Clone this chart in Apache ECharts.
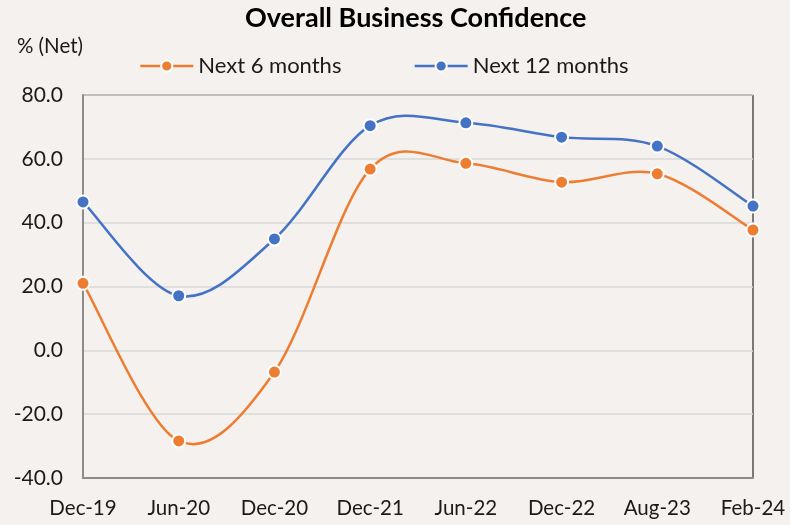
<!DOCTYPE html>
<html lang="en">
<head>
<meta charset="UTF-8">
<title>Overall Business Confidence</title>
<script src="https://cdn.jsdelivr.net/npm/echarts@6/dist/echarts.min.js"></script>
<style>
  html, body { margin: 0; padding: 0; background: #f4f1ef; }
  #chart { width: 790px; height: 525px; }
</style>
</head>
<body>
<div id="chart"></div>
<script>
  // data
  var categories = ['Dec-19', 'Jun-20', 'Dec-20', 'Dec-21', 'Jun-22', 'Dec-22', 'Aug-23', 'Feb-24'];
  var next6 = [21.0, -28.4, -6.8, 56.8, 58.6, 52.7, 55.3, 37.7];
  var next12 = [46.5, 17.1, 34.9, 70.4, 71.3, 66.8, 64.0, 45.2];
  var yTicks = { min: -40, max: 80, interval: 20 };

  var font = 'Lato, "Open Sans", sans-serif';
  var orange = '#ed7d31', blue = '#4472c4';
  var chart = echarts.init(document.getElementById('chart'));

  // markers only, the curve itself is drawn by the custom series below
  function markerSeries(name, data, color) {
    return {
      name: name,
      type: 'line',
      data: data,
      z: 3,
      symbol: 'circle',
      symbolSize: 13,
      lineStyle: { color: color, width: 2.5, opacity: 0 },
      itemStyle: { color: color, borderColor: '#ffffff', borderWidth: 2 }
    };
  }

  // excel-like smoothing (catmull-rom -> bezier), points placed by the axes
  function curveSeries(name, data, color) {
    return {
      name: name,
      type: 'custom',
      z: 2,
      data: data.map(function (v, i) { return [i, v]; }),
      renderItem: function (params, api) {
        var i = params.dataIndex;
        var n = data.length;
        if (i >= n - 1) return null;
        var pt = function (k) {
          k = Math.max(0, Math.min(n - 1, k));
          return api.coord([k, data[k]]);
        };
        var p0 = pt(i - 1), p1 = pt(i), p2 = pt(i + 1), p3 = pt(i + 2);
        return {
          type: 'bezierCurve',
          shape: {
            x1: p1[0], y1: p1[1],
            cpx1: p1[0] + (p2[0] - p0[0]) / 6,
            cpy1: p1[1] + (p2[1] - p0[1]) / 6,
            cpx2: p2[0] - (p3[0] - p1[0]) / 6,
            cpy2: p2[1] - (p3[1] - p1[1]) / 6,
            x2: p2[0], y2: p2[1]
          },
          style: { stroke: color, lineWidth: 2.5, fill: null }
        };
      }
    };
  }

  chart.setOption({
    backgroundColor: '#f4f1ef',
    textStyle: { fontFamily: font },
    title: {
      text: 'Overall Business Confidence',
      left: 240,
      top: 0,
      textStyle: { fontFamily: font, fontWeight: 'bold', fontSize: 27, color: '#000' }
    },
    legend: {
      left: 134,
      top: 50,
      itemWidth: 53,
      itemHeight: 14,
      itemGap: 72,
      textStyle: { fontFamily: font, fontSize: 22, color: '#1a1a1a' },
      data: [
        { name: 'Next 6 months', lineStyle: { color: orange, width: 2.5, opacity: 1 } },
        { name: 'Next 12 months', lineStyle: { color: blue, width: 2.5, opacity: 1 } }
      ]
    },
    grid: {
      left: 83,
      right: 37,
      top: 95,
      bottom: 47,
      show: true,
      borderColor: '#000',
      borderWidth: 1,
      backgroundColor: 'transparent'
    },
    xAxis: {
      type: 'category',
      data: categories,
      boundaryGap: false,
      axisLine: { onZero: false, lineStyle: { color: '#8c8c8c', width: 2 } },
      axisTick: { show: false },
      axisLabel: { fontFamily: font, fontSize: 20.5, color: '#1a1a1a', margin: 20 }
    },
    yAxis: {
      type: 'value',
      name: '% (Net)',
      nameLocation: 'end',
      nameGap: 38,
      nameTextStyle: { fontFamily: font, fontSize: 20.5, color: '#1a1a1a', align: 'right' },
      min: yTicks.min,
      max: yTicks.max,
      interval: yTicks.interval,
      axisLine: { show: true, lineStyle: { color: '#8c8c8c', width: 2 } },
      axisTick: { show: false },
      splitLine: { lineStyle: { color: '#d9d9d9', width: 1.5 } },
      axisLabel: {
        fontFamily: font, fontSize: 21, color: '#1a1a1a', margin: 20,
        formatter: function (v) { return v.toFixed(1); }
      }
    },
    series: [
      markerSeries('Next 6 months', next6, orange),
      markerSeries('Next 12 months', next12, blue),
      curveSeries('Next 6 months', next6, orange),
      curveSeries('Next 12 months', next12, blue)
    ]
  });
</script>
</body>
</html>
